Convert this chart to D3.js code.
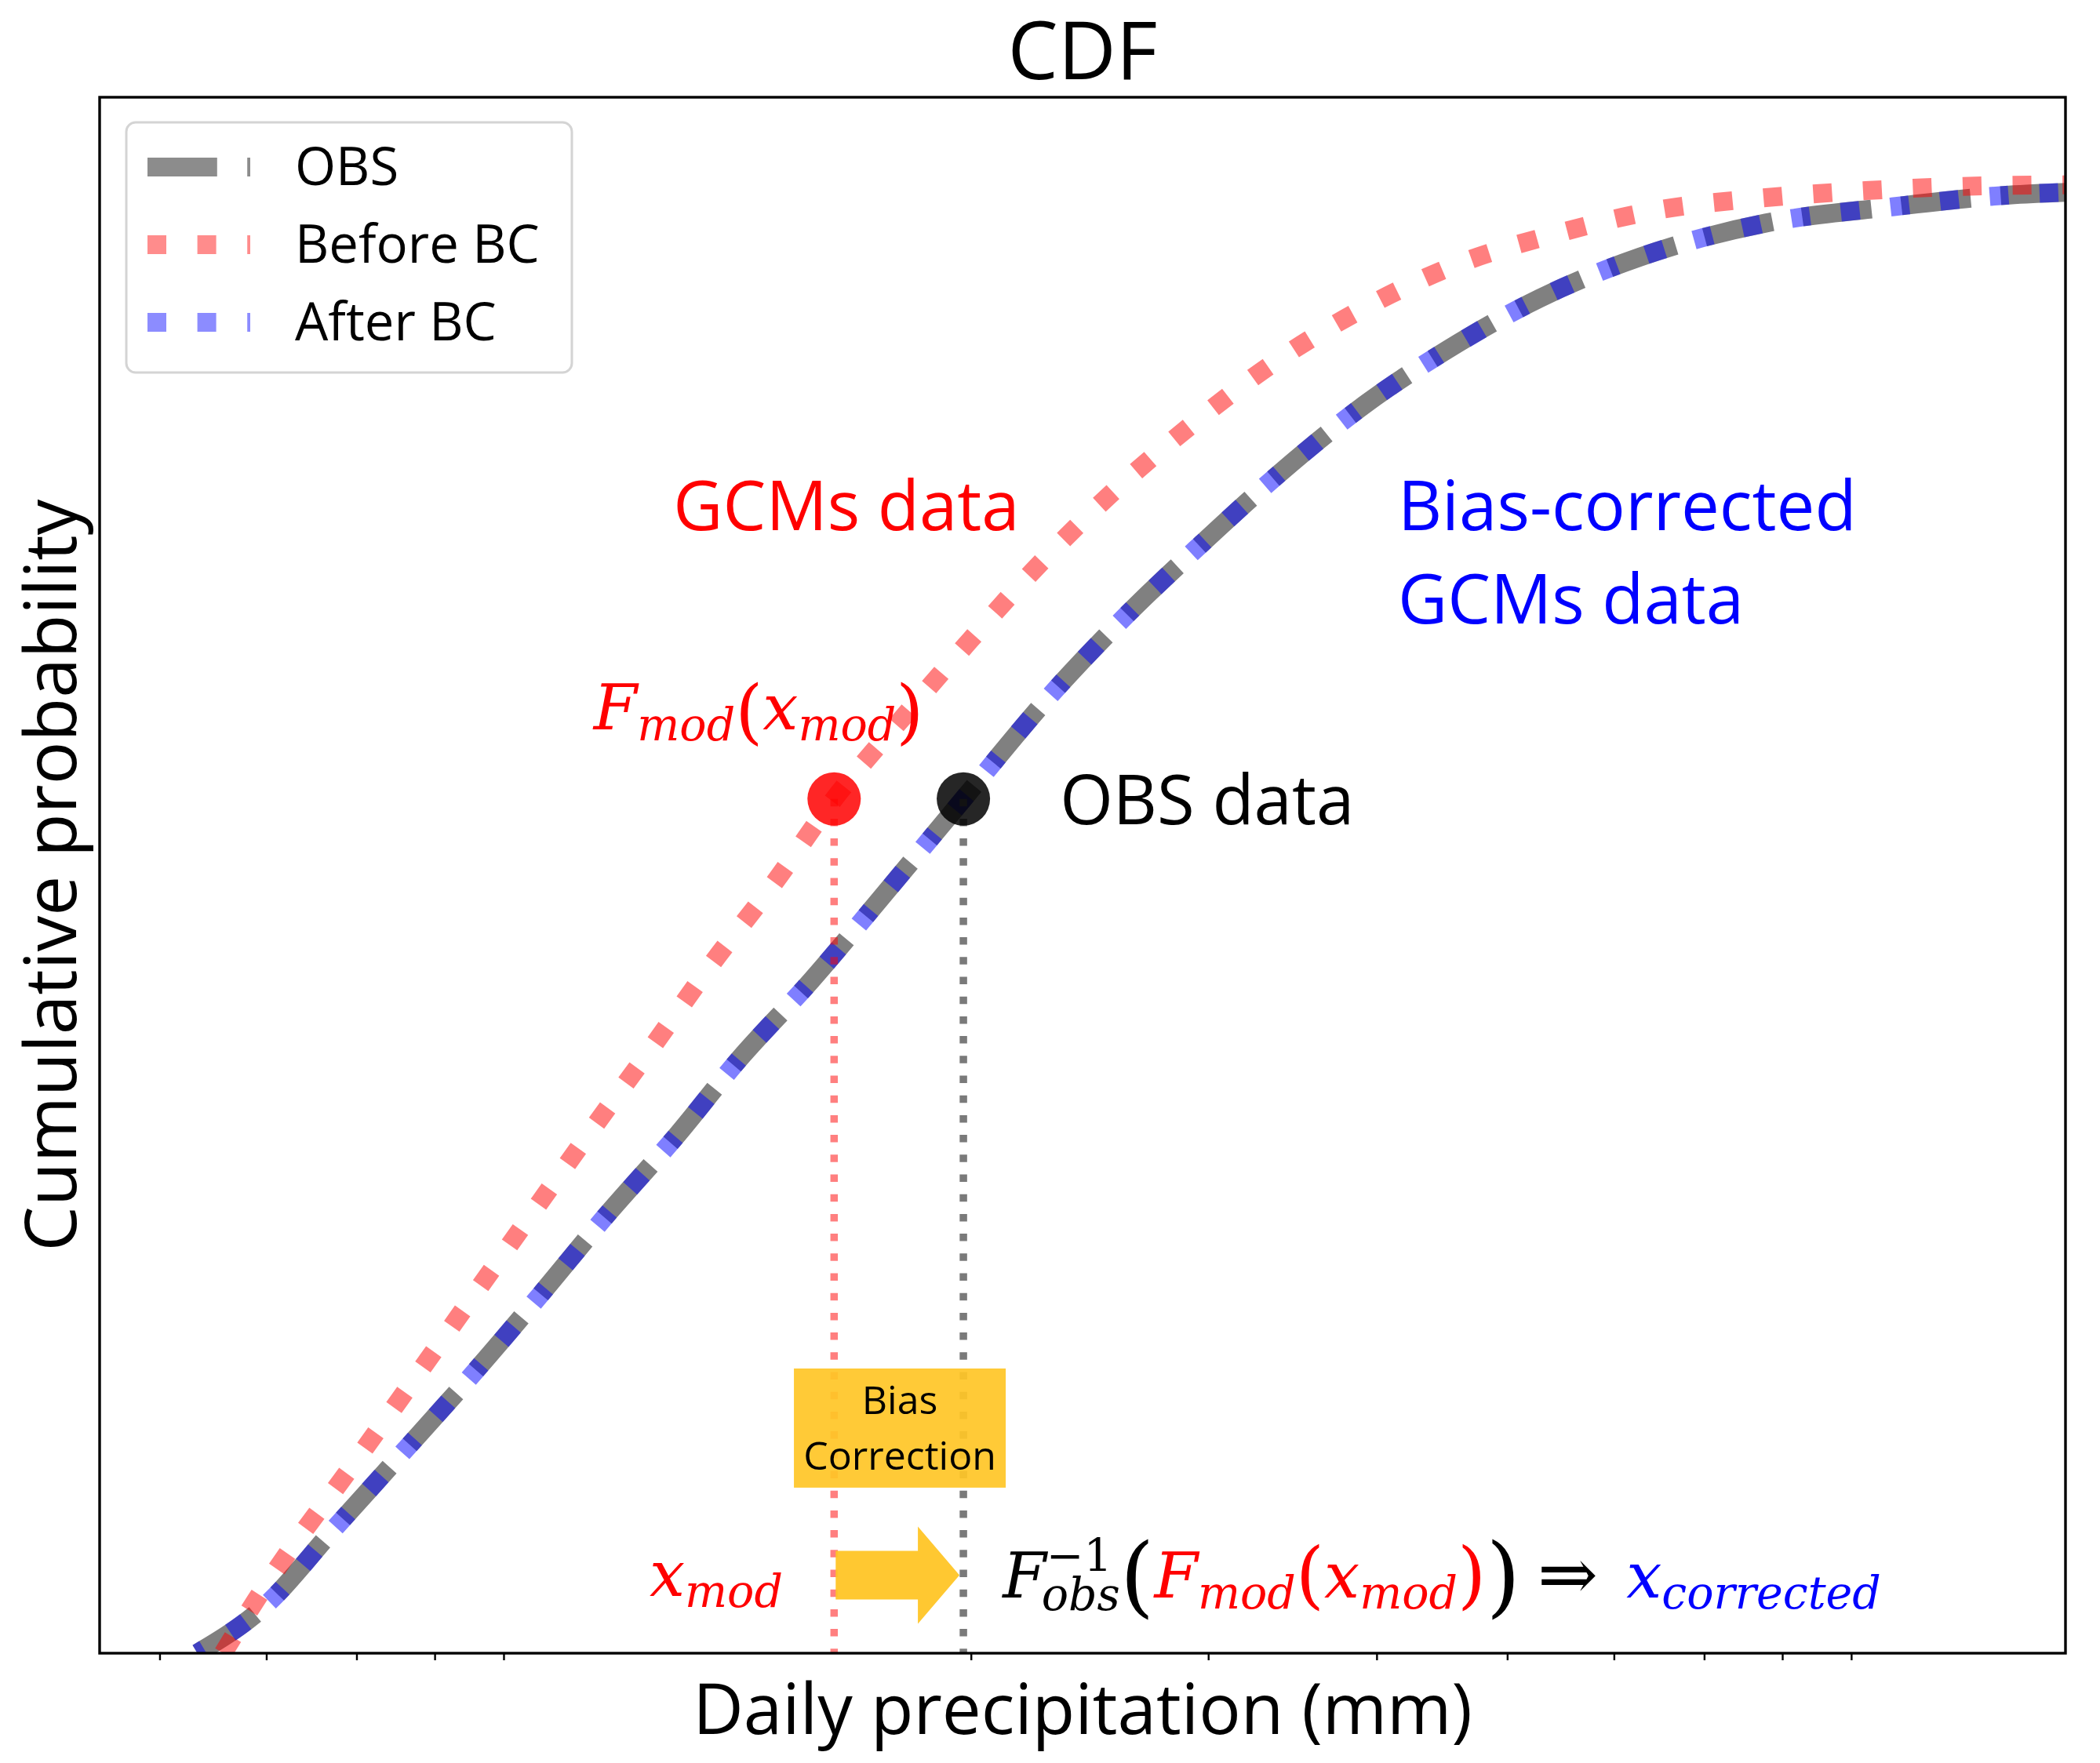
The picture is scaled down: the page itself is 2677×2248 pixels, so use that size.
<!DOCTYPE html>
<html>
<head>
<meta charset="utf-8">
<script src="https://cdn.jsdelivr.net/npm/d3@7"></script>
<style>
  html, body { margin: 0; padding: 0; background: #fff; }
  text { font-family: "Open Sans", sans-serif; }
</style>
</head>
<body>
<svg id="chart" width="2677" height="2248"></svg>
<script>
// values (x in mm on a log axis, y = cumulative probability)
const obsX = [5.33, 5.98, 6.74, 7.60, 8.56, 9.57, 10.69, 12.05, 13.47, 15.19, 17.33, 19.73,
  22.87, 26.15, 29.54, 33.86, 39.34, 45.11, 52.84, 62.72, 77.75, 96.45, 117.8, 131];
const obsP = [0.000, 0.032, 0.085, 0.138, 0.191, 0.243, 0.296, 0.350, 0.404, 0.456, 0.518, 0.580,
  0.650, 0.706, 0.752, 0.801, 0.849, 0.885, 0.920, 0.948, 0.971, 0.982, 0.990, 0.992];

const beforeX = [5.57, 5.91, 6.21, 6.89, 7.65, 8.47, 9.38, 10.41, 11.56, 12.81, 14.28, 15.82,
  17.82, 19.97, 22.50, 25.52, 29.14, 33.64, 39.08, 45.90, 54.48, 64.77, 77.23, 92.15, 110.0, 131];
const beforeP = [0.000, 0.038, 0.067, 0.123, 0.181, 0.238, 0.295, 0.353, 0.410, 0.467, 0.523, 0.580,
  0.636, 0.688, 0.740, 0.789, 0.834, 0.877, 0.913, 0.943, 0.964, 0.980, 0.988, 0.993, 0.996, 0.997];

// after bias correction the model CDF sits on the observed one
const afterX = [5.33, 5.98, 6.74, 7.60, 8.56, 9.57, 10.69, 12.05, 13.47, 15.19, 17.33, 19.73,
  22.87, 26.15, 29.54, 33.86, 39.34, 45.11, 52.84, 62.72, 77.75, 96.45, 117.8, 131];
const afterP = [0.000, 0.032, 0.085, 0.138, 0.191, 0.243, 0.296, 0.350, 0.404, 0.456, 0.518, 0.580,
  0.650, 0.706, 0.752, 0.801, 0.849, 0.885, 0.920, 0.948, 0.971, 0.982, 0.990, 0.992];

const xDomain = [4.51, 129.7];
const yDomain = [0, 1.0564];

// the mapped point
const xMod = 15.82, xCorr = 19.73, fMod = 0.58;

const legendLabels = ["OBS", "Before BC", "After BC"];

const svg = d3.select("#chart");
const pLeft = 127, pRight = 2633, pTop = 124, pBottom = 2108;

const x = d3.scaleLog().domain(xDomain).range([pLeft, pRight]);
const y = d3.scaleLinear().domain(yDomain).range([pBottom, pTop]);

svg.append("defs").append("clipPath").attr("id", "plot")
  .append("rect").attr("x", pLeft).attr("y", pTop)
  .attr("width", pRight - pLeft).attr("height", pBottom - pTop);

const zip = (xs, ps) => xs.map((v, i) => [v, ps[i]]);
const line = d3.line().x(d => x(d[0])).y(d => y(d[1])).curve(d3.curveMonotoneX);

const styles = {
  "OBS": { color: "#808080", opacity: 1, dash: "88.8 38.4", offset: 0 },
  "Before BC": { color: "#ff0000", opacity: 0.5, dash: "24 39.6", offset: 0 },
  "After BC": { color: "#0000ff", opacity: 0.5, dash: "24 39.6", offset: 14 }
};
const series = [
  { name: "OBS", data: zip(obsX, obsP) },
  { name: "Before BC", data: zip(beforeX, beforeP) },
  { name: "After BC", data: zip(afterX, afterP) }
];

const plot = svg.append("g").attr("clip-path", "url(#plot)");

series.forEach(s => {
  const st = styles[s.name];
  plot.append("path")
    .attr("d", line(s.data))
    .attr("fill", "none")
    .attr("stroke", st.color)
    .attr("stroke-opacity", st.opacity)
    .attr("stroke-width", 24)
    .attr("stroke-dasharray", st.dash)
    .attr("stroke-dashoffset", st.offset)
    .attr("stroke-linecap", "butt");
});

// dotted drop lines from the two points
[[xMod, "#ff0000", 0.5], [xCorr, "#7a7a7a", 1]].forEach(([v, c, o]) => {
  plot.append("line")
    .attr("x1", x(v)).attr("x2", x(v))
    .attr("y1", y(fMod)).attr("y2", y(0))
    .attr("stroke", c).attr("stroke-opacity", o)
    .attr("stroke-width", 9.5)
    .attr("stroke-dasharray", "9.5 15.7");
});

plot.append("circle").attr("cx", x(xMod)).attr("cy", y(fMod)).attr("r", 34)
  .attr("fill", "#ff0000").attr("fill-opacity", 0.85);
plot.append("circle").attr("cx", x(xCorr)).attr("cy", y(fMod)).attr("r", 34)
  .attr("fill", "#000000").attr("fill-opacity", 0.85);

// "Bias Correction" box and arrow
const gold = "#ffc526";
const boxX = [14.77, 21.21], boxP = [0.1933, 0.1124];
plot.append("rect")
  .attr("x", x(boxX[0])).attr("y", y(boxP[0]))
  .attr("width", x(boxX[1]) - x(boxX[0]))
  .attr("height", y(boxP[1]) - y(boxP[0]))
  .attr("fill", gold).attr("fill-opacity", 0.92);
const boxMid = Math.sqrt(boxX[0] * boxX[1]);
[["Bias", 0.1624], ["Correction", 0.1246]].forEach(([t, p]) => {
  svg.append("text").attr("x", x(boxMid)).attr("y", y(p))
    .attr("text-anchor", "middle").attr("font-size", 50).attr("fill", "#000").text(t);
});

const arrowP = 0.053;
const ax0 = x(xMod) + 2, ax1 = x(xCorr) - 5, ay = y(arrowP);
const shaft = 31, head = 62, headLen = 53;
plot.append("path")
  .attr("d", d3.line()([
    [ax0, ay - shaft], [ax1 - headLen, ay - shaft], [ax1 - headLen, ay - head],
    [ax1, ay], [ax1 - headLen, ay + head], [ax1 - headLen, ay + shaft], [ax0, ay + shaft]
  ]) + "Z")
  .attr("fill", gold).attr("fill-opacity", 0.95);

// frame and minor ticks (major ticks removed, as in the source)
svg.append("rect").attr("x", pLeft).attr("y", pTop)
  .attr("width", pRight - pLeft).attr("height", pBottom - pTop)
  .attr("fill", "none").attr("stroke", "#000").attr("stroke-width", 3.4);

const minor = x.ticks().filter(v => Math.abs(Math.log10(v) - Math.round(Math.log10(v))) > 1e-6);
svg.append("g").selectAll("line").data(minor).join("line")
  .attr("x1", d => x(d)).attr("x2", d => x(d))
  .attr("y1", pBottom).attr("y2", pBottom + 9)
  .attr("stroke", "#000").attr("stroke-width", 2.4);

// titles
svg.append("text").attr("x", (pLeft + pRight) / 2).attr("y", 101)
  .attr("text-anchor", "middle").attr("font-size", 102).text("CDF");
svg.append("text").attr("x", (pLeft + pRight) / 2).attr("y", 2211)
  .attr("text-anchor", "middle").attr("font-size", 89).text("Daily precipitation (mm)");
svg.append("text")
  .attr("transform", `translate(97,${(pTop + pBottom) / 2}) rotate(-90)`)
  .attr("text-anchor", "middle").attr("font-size", 91).text("Cumulative probability");

// legend
const lg = svg.append("g");
lg.append("rect").attr("x", 161).attr("y", 156).attr("width", 568).attr("height", 319)
  .attr("rx", 12).attr("fill", "#fff").attr("fill-opacity", 0.8)
  .attr("stroke", "#d4d4d4").attr("stroke-width", 3);
legendLabels.forEach((name, i) => {
  const st = styles[name];
  const cy = 213 + i * 99;
  lg.append("line").attr("x1", 188).attr("x2", 319).attr("y1", cy).attr("y2", cy)
    .attr("stroke", st.color).attr("stroke-opacity", st.opacity * 0.9)
    .attr("stroke-width", 24).attr("stroke-dasharray", st.dash);
  lg.append("text").attr("x", 376).attr("y", cy + 23).attr("font-size", 67).text(name);
});

// plain annotations
const notes = [
  { t: "GCMs data", x: 12.02, p: 0.7625, c: "#ff0000" },
  { t: "Bias-corrected", x: 41.45, p: 0.7625, c: "#0000ff" },
  { t: "GCMs data", x: 41.45, p: 0.699, c: "#0000ff" },
  { t: "OBS data", x: 23.27, p: 0.5628, c: "#000000" }
];
notes.forEach(n => {
  svg.append("text").attr("x", x(n.x)).attr("y", y(n.p))
    .attr("font-size", 87).attr("fill", n.c).text(n.t);
});

// math-style labels: one text element, pieces laid out as tspans
function mathText(px, py, tokens) {
  const txt = svg.append("text")
    .style("font-family", "'DejaVu Serif', serif");
  let cx = px, lastStart = px;
  tokens.forEach(tk => {
    const start = tk.stack ? lastStart : cx;
    const t = txt.append("tspan")
      .attr("x", start + (tk.dx || 0)).attr("y", py + (tk.dy || 0))
      .attr("font-size", tk.size || 80)
      .attr("fill", tk.c || "#000")
      .style("font-style", tk.up ? "normal" : "italic")
      .text(tk.t);
    const w = t.node().getComputedTextLength() + (tk.dx || 0) + (tk.gap || 0);
    if (!tk.stack) lastStart = start;
    cx = tk.stack ? Math.max(cx, start + w) : start + w;
  });
  return txt;
}

const red = "#ff0000", blue = "#0000ff";
const sub = (t, c) => ({ t, c, size: 57, dy: 14 });

mathText(x(10.49), y(0.6273), [
  { t: "F", c: red }, sub("mod", red),
  { t: "(", c: red, up: true, size: 90, dy: 8 },
  { t: "x", c: red }, sub("mod", red),
  { t: ")", c: red, up: true, size: 90, dy: 8 }
]);

mathText(x(11.54), y(0.0389), [{ t: "x", c: red }, sub("mod", red)]);

mathText(x(21.10), y(0.0378), [
  { t: "F" },
  { t: "\u22121", up: true, size: 57, dy: -34 },
  { t: "obs", size: 57, dy: 16, stack: true, dx: -6 },
  { t: "(", up: true, size: 112, dy: 11 },
  { t: "F", c: red }, sub("mod", red),
  { t: "(", c: red, up: true, size: 93, dy: 3 },
  { t: "x", c: red }, sub("mod", red),
  { t: ")", c: red, up: true, size: 93, dy: 3 },
  { t: ")", up: true, size: 112, dy: 11, gap: 22 },
  { t: "\u21D2", up: true, size: 92, dy: 2, gap: 36 },
  { t: "x", c: blue }, sub("corrected", blue)
]);
</script>
</body>
</html>
